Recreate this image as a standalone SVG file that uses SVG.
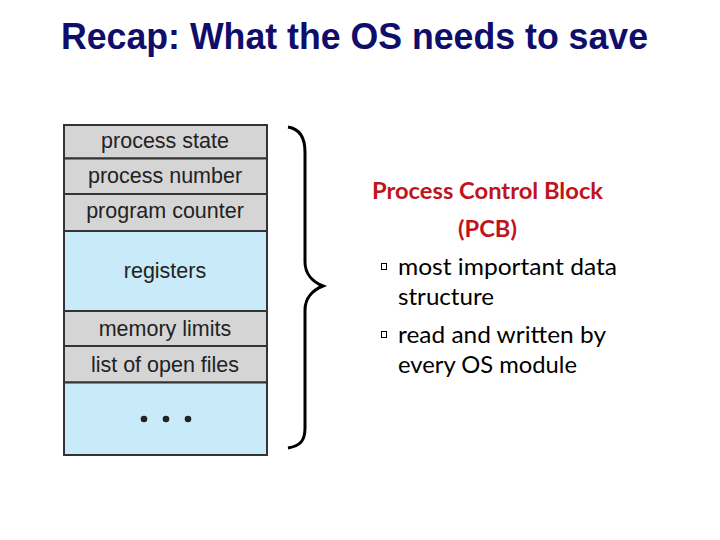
<svg xmlns="http://www.w3.org/2000/svg" width="720" height="540" viewBox="0 0 720 540">
<style>
.title{font-family:"Liberation Sans",Arial,sans-serif;font-weight:bold;font-size:37px;fill:#0f0f6b}
.cell{stroke:#333;stroke-width:2}
.g{fill:#d5d5d5}
.b{fill:#c8eaf9}
.lbl{font-family:"Liberation Sans",Arial,sans-serif;font-size:21.5px;fill:#222;text-anchor:middle}
.red{font-family:Lato,"Open Sans",sans-serif;font-weight:bold;font-size:23px;fill:#c0141c}
.txt{font-family:Lato,"Open Sans",sans-serif;font-size:23.5px;fill:#000}
.bul{fill:none;stroke:#000;stroke-width:1}
</style>
<rect width="720" height="540" fill="#fff"/>
<text class="title" x="61" y="49" textLength="587" lengthAdjust="spacingAndGlyphs">Recap: What the OS needs to save</text>
<g id="pcb-table">
<g id="row-state"><rect class="cell g" x="64" y="125" width="203" height="33.5"/><text class="lbl" x="165" y="148">process state</text></g>
<g id="row-number"><rect class="cell g" x="64" y="158.5" width="203" height="35.5"/><text class="lbl" x="165" y="183">process number</text></g>
<g id="row-pc"><rect class="cell g" x="64" y="194" width="203" height="37"/><text class="lbl" x="165" y="218">program counter</text></g>
<g id="row-registers"><rect class="cell b" x="64" y="231" width="203" height="80"/><text class="lbl" x="165" y="278">registers</text></g>
<g id="row-memory"><rect class="cell g" x="64" y="311" width="203" height="35"/><text class="lbl" x="165" y="336">memory limits</text></g>
<g id="row-files"><rect class="cell g" x="64" y="346" width="203" height="36.5"/><text class="lbl" x="165" y="372">list of open files</text></g>
<g id="row-more"><rect class="cell b" x="64" y="382.5" width="203" height="72.5"/>
<circle cx="144" cy="419" r="3.3" fill="#222"/><circle cx="166" cy="419" r="3.3" fill="#222"/><circle cx="188" cy="419" r="3.3" fill="#222"/></g>
</g>
<g id="connectors">
<path d="M288,127 C300,129 305,138 305,152 L305,262 C305,274 313,282 323,286 C313,290 305,298 305,310 L305,428 C305,441 300,446 288,448" fill="none" stroke="#000" stroke-width="3"/>
</g>
<g id="pcb-text">
<text class="red" x="372" y="199" textLength="231" lengthAdjust="spacingAndGlyphs">Process Control Block</text>
<text class="red" x="458" y="237" textLength="59" lengthAdjust="spacingAndGlyphs">(PCB)</text>
<rect class="bul" x="381.5" y="263.5" width="5" height="6"/>
<text class="txt" x="398" y="275" textLength="219" lengthAdjust="spacingAndGlyphs">most important data</text>
<text class="txt" x="398" y="305" textLength="96" lengthAdjust="spacingAndGlyphs">structure</text>
<rect class="bul" x="381.5" y="331.5" width="5" height="6"/>
<text class="txt" x="398" y="343" textLength="208" lengthAdjust="spacingAndGlyphs">read and written by</text>
<text class="txt" x="398" y="373" textLength="179" lengthAdjust="spacingAndGlyphs">every OS module</text>
</g>
</svg>
